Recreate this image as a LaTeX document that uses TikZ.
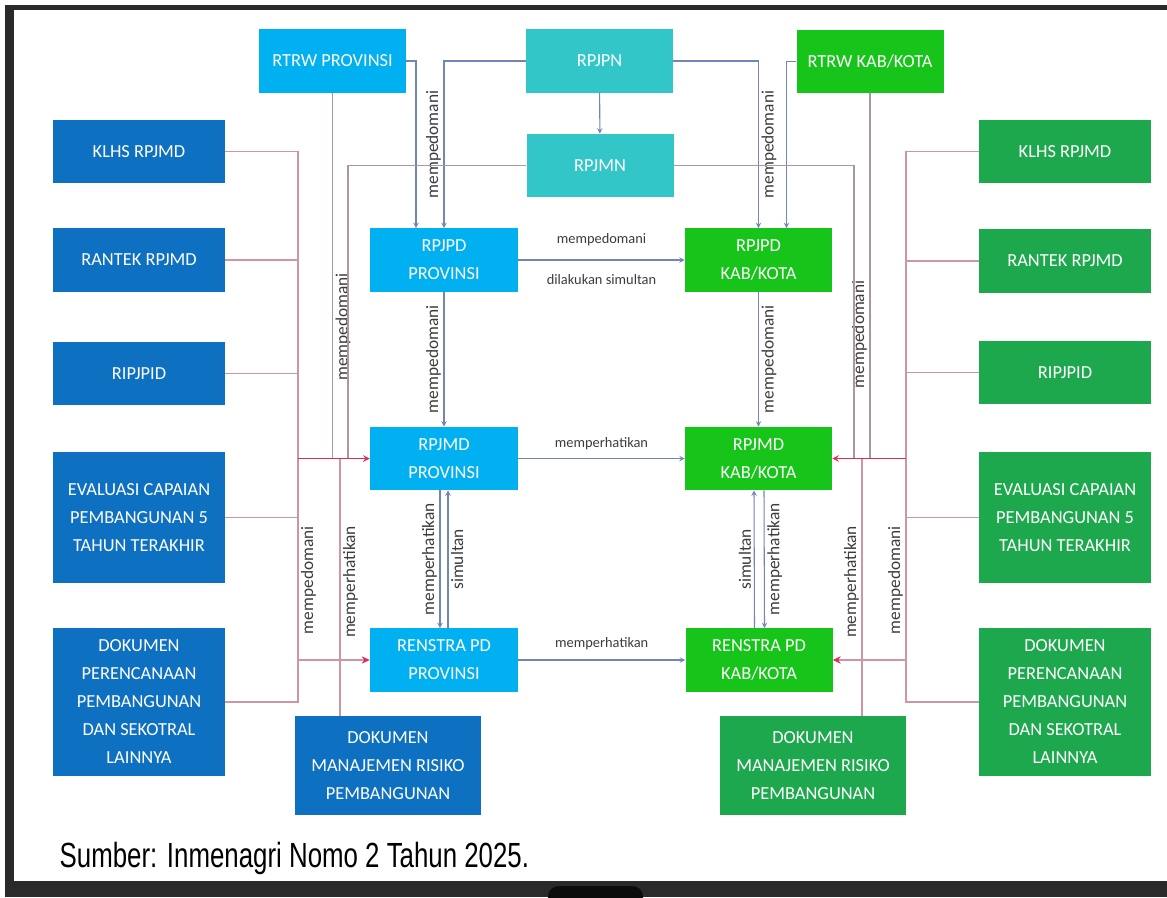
\documentclass[tikz,border=0pt]{standalone}
\usepackage{fontspec}
\usepackage{xcolor}
\usepackage{tikz}
\usetikzlibrary{arrows}
\usetikzlibrary{arrows.meta}
\usetikzlibrary{calc}
\newfontfamily\carlito{Carlito}
\newfontfamily\capfont[FakeStretch=0.74]{Liberation Sans}
\newcommand{\boxfnt}{\carlito\fontsize{13.8}{21}\selectfont}
\newcommand{\vfnt}{\carlito\fontsize{13}{15}\selectfont}
\newcommand{\hfnt}{\carlito\fontsize{10.8}{13}\selectfont}
\newcommand{\capfnt}{\capfont\fontsize{26.2}{30}\selectfont}
\definecolor{provblue}{RGB}{0,176,240}
\definecolor{sideblue}{RGB}{14,112,193}
\definecolor{natteal}{RGB}{50,198,200}
\definecolor{kabgreen}{RGB}{22,196,26}
\definecolor{sidegreen}{RGB}{30,168,78}
\definecolor{linkblue}{RGB}{115,132,182}
\definecolor{linkpink}{RGB}{205,150,165}
\definecolor{linkmauve}{RGB}{170,150,165}
\definecolor{arrowred}{RGB}{222,45,85}
\definecolor{labelgray}{RGB}{60,60,60}
\definecolor{screenframe}{RGB}{42,42,42}
\definecolor{notch}{RGB}{12,12,12}

\begin{document}
\begin{tikzpicture}[x=0.75pt,y=-0.75pt,
  box/.style={rectangle, text=white, align=center, font=\boxfnt, inner sep=0pt,
    minimum width=110.25pt, minimum height=47.5pt},
  side/.style={box, minimum width=129pt},
  mid/.style={box, minimum width=111pt},
  risk/.style={box, minimum width=139.5pt, minimum height=74.25pt},
  vlabL/.style={rotate=90, anchor=south, inner sep=2pt, font=\vfnt, text=labelgray},
  vlabR/.style={rotate=90, anchor=north, inner sep=2pt, font=\vfnt, text=labelgray},
  hlab/.style={font=\hfnt, text=labelgray},
  guide/.style={color=linkblue, line width=0.8pt, -stealth},
  feed/.style={color=linkpink, line width=0.8pt},
  hint/.style={color=linkmauve, line width=0.8pt},
  inarrow/.style={color=arrowred, line width=1.2pt, -stealth},
  redtip/.style={feed, -{Stealth[length=6pt,width=5.5pt,color=arrowred]}}]
  \useasboundingbox (0,0) rectangle (1167,897);
  % screen frame
  \fill[white] (0,0) rectangle (1167,897);
  \fill[screenframe] (5,5) rectangle (1167,10);
  \fill[screenframe] (5,5) rectangle (14,897);
  \fill[screenframe] (5,881) rectangle (1167,897);
  \fill[notch, rounded corners=8] (548,886) rectangle (643,912);

  % top row
  \node[box, fill=provblue] (rtrwprov) at (332.5,61) {RTRW PROVINSI};
  \node[box, fill=natteal] (rpjpn) at (599.5,61) {RPJPN};
  \node[box, fill=natteal] (rpjmn) at (600,165.5) {RPJMN};
  \node[box, fill=kabgreen] (rtrwkab) at (870,61.5) {RTRW KAB/KOTA};

  % provinsi and kab/kota plans
  \node[mid, fill=provblue] (rpjpdprov) at (444,260) {RPJPD\\PROVINSI};
  \node[mid, fill=provblue] (rpjmdprov) at (444,458.5) {RPJMD\\PROVINSI};
  \node[mid, fill=provblue] (renstraprov) at (444,660) {RENSTRA PD\\PROVINSI};
  \node[box, fill=kabgreen] (rpjpdkab) at (758.5,260) {RPJPD\\KAB/KOTA};
  \node[box, fill=kabgreen] (rpjmdkab) at (758.5,458.5) {RPJMD\\KAB/KOTA};
  \node[box, fill=kabgreen] (renstrakab) at (759,660) {RENSTRA PD\\KAB/KOTA};

  % left inputs
  \node[side, fill=sideblue] (lklhs) at (139,151.5) {KLHS RPJMD};
  \node[side, fill=sideblue] (lrantek) at (139,260) {RANTEK RPJMD};
  \node[side, fill=sideblue] (lripjpid) at (139,373.5) {RIPJPID};
  \node[side, fill=sideblue, minimum height=98.25pt] (leval) at (139,517.5)
    {EVALUASI CAPAIAN\\PEMBANGUNAN 5\\TAHUN TERAKHIR};
  \node[side, fill=sideblue, minimum height=111pt] (ldok) at (139,702)
    {DOKUMEN\\PERENCANAAN\\PEMBANGUNAN\\DAN SEKOTRAL\\LAINNYA};

  % right inputs
  \node[side, fill=sidegreen] (rklhs) at (1065,151.5) {KLHS RPJMD};
  \node[side, fill=sidegreen] (rrantek) at (1065,261) {RANTEK RPJMD};
  \node[side, fill=sidegreen] (rripjpid) at (1065,372.5) {RIPJPID};
  \node[side, fill=sidegreen, minimum height=98.25pt] (reval) at (1065,517.5)
    {EVALUASI CAPAIAN\\PEMBANGUNAN 5\\TAHUN TERAKHIR};
  \node[side, fill=sidegreen, minimum height=111pt] (rdok) at (1065,702)
    {DOKUMEN\\PERENCANAAN\\PEMBANGUNAN\\DAN SEKOTRAL\\LAINNYA};

  % risk documents
  \node[risk, fill=sideblue] (dokmrprov) at (388,765.5)
    {DOKUMEN\\MANAJEMEN RISIKO\\PEMBANGUNAN};
  \node[risk, fill=sidegreen] (dokmrkab) at (813,765.5)
    {DOKUMEN\\MANAJEMEN RISIKO\\PEMBANGUNAN};

  \node[anchor=base west, font=\capfnt, text=black] (source) at (55,867)
    {Sumber: Inmenagri Nomo 2 Tahun 2025.};

  % junctions on the RPJMD line
  \coordinate (lbus) at (298,458.5);
  \coordinate (rbus) at (906,458.5);
  \coordinate (lmn) at (348,458.5);
  \coordinate (rmn) at (854,458.5);
  \coordinate (lmr) at (340,458.5);
  \coordinate (rmr) at (862,458.5);

  % national and spatial plans
  \draw[guide] (rtrwprov.east) -| ($(rpjpdprov.north)+(-28,0)$);
  \draw[guide] (rpjpn.west) -| node[pos=.75, vlabL] {mempedomani} (rpjpdprov.north);
  \draw[guide] (rpjpn.east) -| node[pos=.75, vlabR] {mempedomani} (rpjpdkab.north);
  \draw[guide] (rtrwkab.west) -| ($(rpjpdkab.north)+(28,0)$);

  \path[guide]
    (rpjpn) edge (rpjmn)
    (rpjpdprov) edge node[hlab, above=7pt] {mempedomani}
                     node[hlab, below=7pt] {dilakukan simultan} (rpjpdkab)
    (rpjmdprov) edge node[hlab, above=3pt] {memperhatikan} (rpjmdkab)
    (renstraprov) edge node[hlab, above=4pt] {memperhatikan} (renstrakab)
    (rpjpdprov) edge node[vlabL] {mempedomani} (rpjmdprov)
    (rpjpdkab) edge node[vlabR] {mempedomani} (rpjmdkab);

  \draw[guide] ($(rpjmdprov.south)+(-4,0)$) -- node[vlabL] {memperhatikan} ($(renstraprov.north)+(-4,0)$);
  \draw[guide] ($(renstraprov.north)+(4,0)$) -- node[vlabR] {simultan} ($(rpjmdprov.south)+(4,0)$);
  \draw[guide] ($(renstrakab.north)+(-4.5,0)$) -- node[vlabL] {simultan} ($(rpjmdkab.south)+(-4.5,0)$);
  \draw[guide] ($(rpjmdkab.south)+(5.5,0)$) -- node[vlabR] {memperhatikan} ($(renstrakab.north)+(5.5,0)$);

  % provinsi side
  \draw[feed] (lklhs.east) -| (lbus) -- node[vlabR] {mempedomani} (lbus |- ldok.east) -- (ldok.east);
  \foreach \n in {lrantek,lripjpid,leval}
    \draw[feed] (\n.east) -- (\n.east -| lbus);
  \draw[hint] (rtrwprov.south) -- node[pos=.64, vlabR] {mempedomani} (rtrwprov.south |- lbus);
  \draw[hint] (rpjmn.west) -| (lmn);
  \draw[feed] (dokmrprov.north -| lmr) -- node[pos=.52, vlabR] {memperhatikan} (lmr);
  \draw[inarrow] (lbus) -- (rpjmdprov.west);
  \draw[redtip] (lbus |- renstraprov.west) -- (renstraprov.west);

  % kab/kota side
  \draw[feed] (rklhs.west) -| (rbus) -- node[vlabL] {mempedomani} (rbus |- rdok.west) -- (rdok.west);
  \foreach \n in {rrantek,rripjpid,reval}
    \draw[feed] (\n.west) -- (\n.west -| rbus);
  \draw[hint] (rtrwkab.south) -- node[pos=.66, vlabL] {mempedomani} (rtrwkab.south |- rbus);
  \draw[hint] (rpjmn.east) -| (rmn);
  \draw[feed] (dokmrkab.north -| rmr) -- node[pos=.52, vlabL] {memperhatikan} (rmr);
  \draw[inarrow] (rbus) -- (rpjmdkab.east);
  \draw[redtip] (rbus |- renstrakab.east) -- (renstrakab.east);
\end{tikzpicture}
\end{document}
